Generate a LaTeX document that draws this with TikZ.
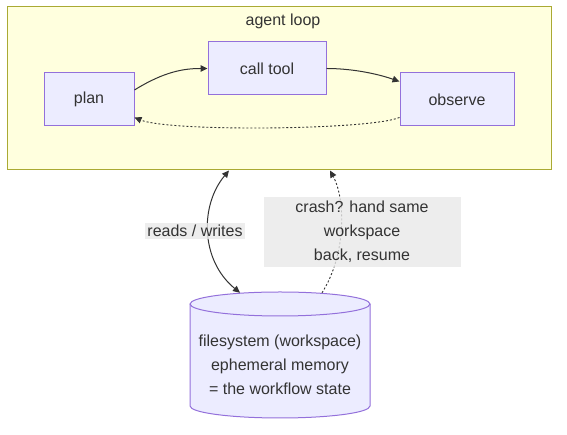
\documentclass[tikz,border=0pt]{standalone}
\usepackage{fontspec}
\setmainfont{Liberation Sans}
\usetikzlibrary{arrows.meta}
\definecolor{clfill}{HTML}{FFFFDE}
\definecolor{cldraw}{HTML}{AAAA33}
\definecolor{ndfill}{HTML}{ECECFF}
\definecolor{nddraw}{HTML}{9370DB}
\definecolor{txt}{HTML}{333333}
\definecolor{lblbg}{HTML}{E8E8E8}
\tikzset{
  x=1pt, y=1pt,
  every node/.style={font=\fontsize{16}{24}\selectfont, text=txt},
  cluster/.style={draw=cldraw, fill=clfill, line width=1pt, minimum width=544pt, minimum height=163pt, inner sep=0pt},
  box/.style={draw=nddraw, fill=ndfill, line width=1pt, minimum height=53pt, inner sep=0pt},
  lbl/.style={fill=lblbg, fill opacity=0.8, text opacity=1, align=center, inner sep=2pt},
  edge/.style={draw=txt, line width=1pt, -{Triangle[length=7pt,width=6.5pt]}},
  dotedge/.style={draw=txt, line width=0.9pt, dash pattern=on 2pt off 2pt, -{Triangle[length=7pt,width=6.5pt]}},
}
\begin{document}
\begin{tikzpicture}
\useasboundingbox (0,0) rectangle (567,435);
\node[cluster] (cl) at (279,346.5) {};
\node (title) at (283,414) {agent loop};
\node[box, minimum width=90pt] (plan) at (89,335.5) {plan};
\node[box, minimum width=118pt] (call) at (267,366.5) {call tool};
\node[box, minimum width=114pt] (obs) at (457,335.5) {observe};
% cylinder
\draw[draw=nddraw, fill=ndfill, line width=1pt]
  (190,131) -- (190,29) arc[start angle=180, end angle=360, x radius=90, y radius=12]
  -- (370,131) arc[start angle=0, end angle=180, x radius=90, y radius=12] -- cycle;
\draw[draw=nddraw, line width=1pt] (190,131) arc[start angle=180, end angle=360, x radius=90, y radius=12];
\node[minimum width=180pt, minimum height=126pt, inner sep=0pt] (fs) at (280,80) {};
\node[align=center] (fstext) at (280,70) {filesystem (workspace)\\ephemeral memory\\= the workflow state};
% coordinates on borders
\coordinate (rwtop) at ([xshift=-50pt]cl.south);
\coordinate (rwbot) at ([xshift=-40pt,yshift=-1pt]fs.north);
\coordinate (crbot) at ([xshift=42pt,yshift=-1pt]fs.north);
\coordinate (crtop) at ([xshift=51pt]cl.south);
% edges in loop
\draw[edge] ([yshift=-17.5pt]plan.north east) .. controls (165,364) and (185,366.5) .. (call.west);
\draw[edge] (call.east) .. controls (350,366.5) and (375,362) .. ([yshift=-9pt]obs.north west);
\draw[dotedge] ([yshift=9pt]obs.south west) .. controls (370,305) and (170,303) .. ([yshift=9pt]plan.south east);
% edges to filesystem
\draw[edge, {Triangle[length=7pt,width=6.5pt]}-{Triangle[length=7pt,width=6.5pt]}] (rwtop) .. controls (200,230) and (200,175) .. (rwbot);
\draw[dotedge] (crbot) .. controls (346,180) and (346,235) .. (crtop);
\node[lbl] (rwlbl) at (195,204) {reads / writes};
\node[lbl, minimum width=197pt, minimum height=70pt] (crlbl) at (362,203) {crash? hand same\\workspace\\back, resume};
\end{tikzpicture}
\end{document}
